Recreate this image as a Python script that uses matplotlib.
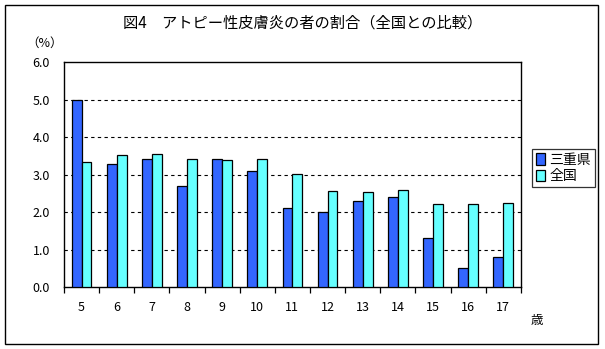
import matplotlib.pyplot as plt
import numpy as np
from matplotlib.patches import Rectangle

plt.rcParams['font.family'] = ['Noto Sans CJK JP', 'DejaVu Sans']

# 年齢別のアトピー性皮膚炎の者の割合（%）
ages = ['5', '6', '7', '8', '9', '10', '11', '12', '13', '14', '15', '16', '17']
mie = [5.0, 3.3, 3.41, 2.7, 3.41, 3.1, 2.11, 2.0, 2.29, 2.4, 1.31, 0.51, 0.8]
national = [3.33, 3.52, 3.55, 3.41, 3.39, 3.41, 3.01, 2.56, 2.53, 2.59, 2.21, 2.21, 2.24]
series_names = ['三重県', '全国']

fig = plt.figure(figsize=(6.05, 3.49), dpi=100)
ax = fig.add_axes([0.1058, 0.177, 0.755, 0.6445])

x = np.arange(len(ages))
w = 0.28
ax.bar(x - w / 2, mie, w, color='#3366FF', edgecolor='black', linewidth=0.9,
       label=series_names[0], zorder=3)
ax.bar(x + w / 2, national, w, color='#66FFFF', edgecolor='black', linewidth=0.9,
       label=series_names[1], zorder=3)

ax.set_xlim(-0.5, len(ages) - 0.5)
ax.set_ylim(0, 6)
ax.set_yticks(np.arange(0, 6.1, 1.0))
ax.set_yticklabels([f'{v:.1f}' for v in np.arange(0, 6.1, 1.0)], fontsize=9)
ax.tick_params(axis='y', length=0, pad=10)

# 目盛は区切り位置、ラベルは各カテゴリの中央
ax.set_xticks(np.arange(-0.5, len(ages)), minor=True)
ax.set_xticks(x)
ax.set_xticklabels(ages, fontsize=9)
ax.tick_params(axis='x', which='major', length=0, pad=10)
ax.tick_params(axis='x', which='minor', length=4, width=0.9, direction='out')

for v in range(1, 6):
    ax.axhline(v, color='black', linestyle=(0, (3, 3)), linewidth=0.8, zorder=1)

for s in ax.spines.values():
    s.set_linewidth(1.0)

leg = ax.legend(loc='center left', bbox_to_anchor=(1.025, 0.53), fontsize=10,
                frameon=True, fancybox=False, edgecolor='black',
                handlelength=0.7, handleheight=0.9, handletextpad=0.3,
                borderpad=0.25, labelspacing=0.2, borderaxespad=0)
leg.get_frame().set_linewidth(0.9)

fig.text(0.5, 0.935, '図4　アトピー性皮膚炎の者の割合（全国との比較）',
         ha='center', va='center', fontsize=11)
fig.text(0.074, 0.877, '（%）', ha='center', va='center', fontsize=9)
fig.text(0.888, 0.083, '歳', ha='center', va='center', fontsize=9)

# 外枠
fig.patches.append(Rectangle((0.009, 0.015), 0.98, 0.97, transform=fig.transFigure,
                             fill=False, edgecolor='black', linewidth=1.0))

fig.savefig('out.png', dpi=100)
